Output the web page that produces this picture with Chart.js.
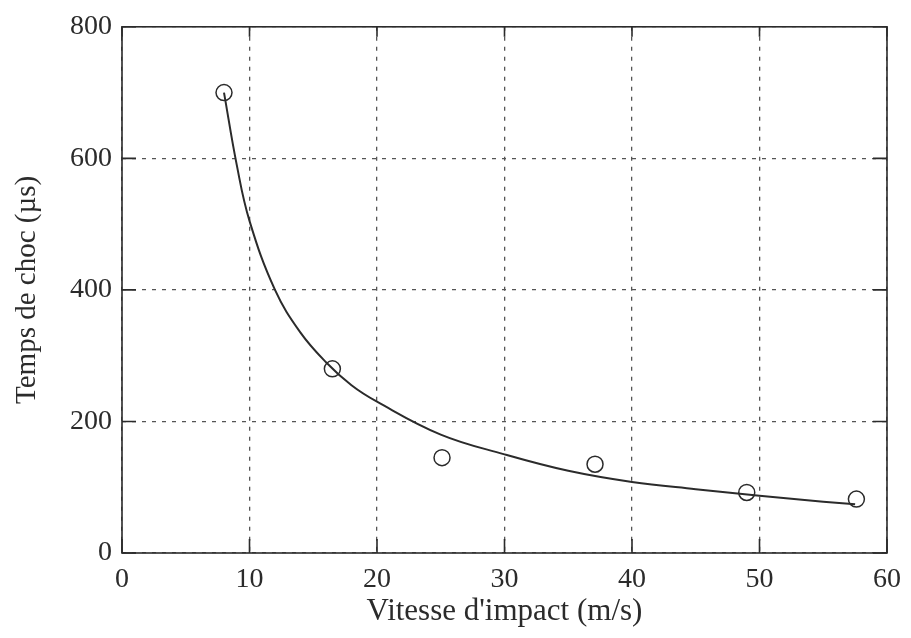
<!DOCTYPE html>
<html lang="fr">
<head>
    <meta charset="UTF-8">
    <title>Temps de choc en fonction de la vitesse d'impact</title>
    <script src="https://cdn.jsdelivr.net/npm/chart.js"></script>
    <style>
        body {
            margin: 0;
            background: #ffffff;
        }
        #chart-container {
            width: 911px;
            height: 638px;
        }
    </style>
</head>
<body>
    <div id="chart-container">
        <canvas id="chocChart"></canvas>
    </div>

    <script>
        // measured points (circles)
        const vitesses = [8, 16.5, 25.1, 37.1, 49.0, 57.6];
        const tempsMesures = [700, 280, 145, 135, 92, 82];

        // fitted curve
        const courbeX = [8, 9, 10, 12, 14, 16, 18, 20, 25, 30, 35, 40, 45, 50, 55, 57.5];
        const courbeY = [700, 590, 505, 400, 335, 290, 255, 230, 180, 150, 125, 108, 97, 87, 78, 74];

        const xTicks = [0, 10, 20, 30, 40, 50, 60];
        const yTicks = [0, 200, 400, 600, 800];

        const ink = "#2b2b2b";
        const serif = "'Liberation Serif', 'DejaVu Serif', serif";

        // box around plot + short solid tick marks pointing inward
        const frame = {
            id: "frame",
            afterDraw(chart) {
                const { ctx, chartArea: a, scales } = chart;
                ctx.save();
                ctx.strokeStyle = ink;
                ctx.lineWidth = 1.6;
                ctx.strokeRect(a.left, a.top, a.right - a.left, a.bottom - a.top);
                ctx.beginPath();
                xTicks.forEach(v => {
                    const px = scales.x.getPixelForValue(v);
                    ctx.moveTo(px, a.bottom); ctx.lineTo(px, a.bottom - 14);
                    ctx.moveTo(px, a.top); ctx.lineTo(px, a.top + 10);
                });
                yTicks.forEach(v => {
                    const py = scales.y.getPixelForValue(v);
                    ctx.moveTo(a.left, py); ctx.lineTo(a.left + 14, py);
                    ctx.moveTo(a.right, py); ctx.lineTo(a.right - 14, py);
                });
                ctx.stroke();
                ctx.restore();
            }
        };

        new Chart(document.getElementById("chocChart"), {
            type: "scatter",
            data: {
                datasets: [
                    {
                        label: "Ajustement",
                        data: courbeX.map((x, i) => ({ x: x, y: courbeY[i] })),
                        showLine: true,
                        borderColor: ink,
                        borderWidth: 2,
                        tension: 0.4,
                        pointRadius: 0
                    },
                    {
                        label: "Mesures",
                        data: vitesses.map((x, i) => ({ x: x, y: tempsMesures[i] })),
                        pointRadius: 8,
                        pointBorderWidth: 1.5,
                        pointBorderColor: ink,
                        pointBackgroundColor: "rgba(255,255,255,0)"
                    }
                ]
            },
            options: {
                responsive: true,
                maintainAspectRatio: false,
                animation: false,
                layout: { padding: { top: 22, right: 17, left: 0, bottom: 8 } },
                plugins: {
                    legend: { display: false },
                    tooltip: { enabled: false }
                },
                scales: {
                    x: {
                        type: "linear",
                        min: 0,
                        max: 60,
                        afterBuildTicks: s => { s.ticks = xTicks.map(v => ({ value: v })); },
                        border: { display: false, dash: [4, 6] },
                        grid: {
                            color: "#555",
                            lineWidth: 1.3,
                            drawTicks: false
                        },
                        ticks: {
                            color: ink,
                            padding: 10,
                            font: { family: serif, size: 28 }
                        },
                        title: {
                            display: true,
                            text: "Vitesse d'impact (m/s)",
                            color: ink,
                            padding: { top: 0, bottom: 0 },
                            font: { family: serif, size: 31 }
                        },
                        afterFit: s => { s.height = 77; }
                    },
                    y: {
                        min: 0,
                        max: 800,
                        afterBuildTicks: s => { s.ticks = yTicks.map(v => ({ value: v })); },
                        border: { display: false, dash: [4, 6] },
                        grid: {
                            color: "#555",
                            lineWidth: 1.3,
                            drawTicks: false
                        },
                        ticks: {
                            color: ink,
                            padding: 10,
                            font: { family: serif, size: 28 }
                        },
                        title: {
                            display: true,
                            text: "Temps de choc (µs)",
                            color: ink,
                            padding: { top: 10, bottom: 10 },
                            font: { family: serif, size: 29 }
                        },
                        afterFit: s => { s.width = 122; }
                    }
                }
            },
            plugins: [frame]
        });
    </script>
</body>
</html>
